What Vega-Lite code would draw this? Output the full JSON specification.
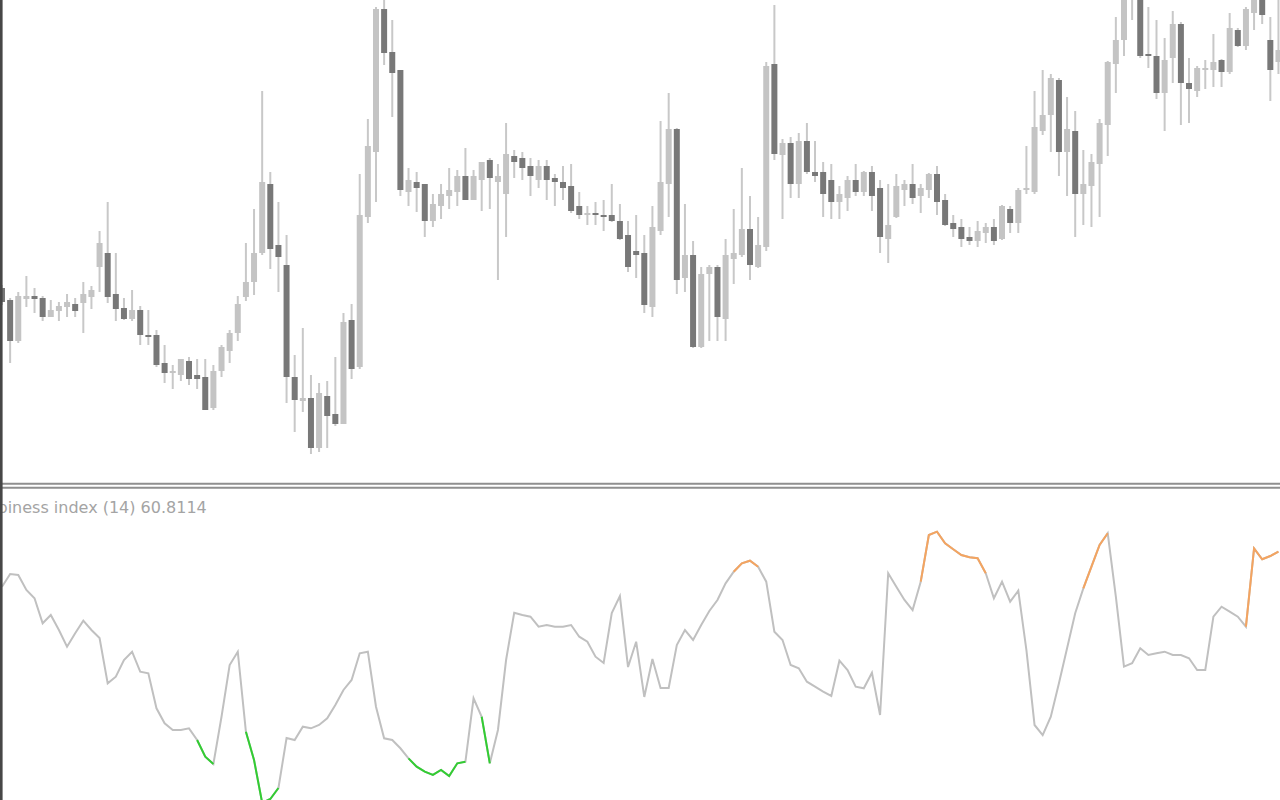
{
  "$schema": "https://vega.github.io/schema/vega-lite/v6.json",
  "width": 1280,
  "height": 800,
  "padding": 0,
  "autosize": {"type": "none"},
  "background": "#ffffff",
  "config": {"view": {"stroke": null}, "scale": {"continuousPadding": 0}},
  "datasets": {
    "candles": [
      {"i":0,"o":192,"h":195,"l":175,"c":178},{"i":1,"o":180,"h":182,"l":117,"c":139},{"i":2,"o":139,"h":188,"l":137,"c":184},{"i":3,"o":181,"h":204,"l":173,"c":184},{"i":4,"o":184,"h":192,"l":167,"c":181},
      {"i":5,"o":182,"h":184,"l":159,"c":163},{"i":6,"o":163,"h":180,"l":163,"c":170},{"i":7,"o":169,"h":178,"l":159,"c":174},{"i":8,"o":173,"h":186,"l":163,"c":178},{"i":9,"o":176,"h":182,"l":163,"c":169},
      {"i":10,"o":177,"h":198,"l":147,"c":186},{"i":11,"o":183,"h":194,"l":171,"c":190},{"i":12,"o":213,"h":249,"l":188,"c":237},{"i":13,"o":227,"h":278,"l":177,"c":183},{"i":14,"o":186,"h":227,"l":159,"c":171},
      {"i":15,"o":172,"h":182,"l":160,"c":161},{"i":16,"o":161,"h":190,"l":159,"c":170},{"i":17,"o":170,"h":174,"l":135,"c":145},{"i":18,"o":145,"h":170,"l":135,"c":143},{"i":19,"o":145,"h":150,"l":113,"c":115},
      {"i":20,"o":117,"h":135,"l":97,"c":107},{"i":21,"o":107,"h":115,"l":91,"c":109},{"i":22,"o":105,"h":121,"l":99,"c":121},{"i":23,"o":119,"h":123,"l":95,"c":101},{"i":24,"o":105,"h":121,"l":91,"c":101},
      {"i":25,"o":103,"h":121,"l":70,"c":70},{"i":26,"o":72,"h":115,"l":70,"c":109},{"i":27,"o":109,"h":135,"l":103,"c":133},{"i":28,"o":129,"h":150,"l":117,"c":147},{"i":29,"o":147,"h":184,"l":139,"c":176},
      {"i":30,"o":183,"h":237,"l":179,"c":198},{"i":31,"o":198,"h":271,"l":185,"c":227},{"i":32,"o":227,"h":389,"l":225,"c":298},{"i":33,"o":296,"h":308,"l":211,"c":231},{"i":34,"o":235,"h":278,"l":188,"c":223},
      {"i":35,"o":215,"h":245,"l":77,"c":103},{"i":36,"o":103,"h":125,"l":48,"c":80},{"i":37,"o":79,"h":152,"l":68,"c":82},{"i":38,"o":82,"h":105,"l":26,"c":32},{"i":39,"o":32,"h":97,"l":28,"c":87},
      {"i":40,"o":84,"h":99,"l":32,"c":64},{"i":41,"o":66,"h":123,"l":54,"c":56},{"i":42,"o":56,"h":167,"l":56,"c":158},{"i":43,"o":160,"h":176,"l":101,"c":111},{"i":44,"o":113,"h":306,"l":111,"c":265},
      {"i":45,"o":263,"h":361,"l":257,"c":334},{"i":46,"o":328,"h":473,"l":278,"c":471},{"i":47,"o":471,"h":484,"l":415,"c":427},{"i":48,"o":428,"h":460,"l":363,"c":407},{"i":49,"o":410,"h":410,"l":284,"c":290},
      {"i":50,"o":288,"h":312,"l":274,"c":300},{"i":51,"o":298,"h":308,"l":268,"c":292},{"i":52,"o":296,"h":296,"l":243,"c":259},{"i":53,"o":259,"h":286,"l":253,"c":276},{"i":54,"o":274,"h":296,"l":261,"c":286},
      {"i":55,"o":284,"h":312,"l":271,"c":290},{"i":56,"o":288,"h":310,"l":274,"c":304},{"i":57,"o":304,"h":332,"l":280,"c":280},{"i":58,"o":280,"h":310,"l":280,"c":304},{"i":59,"o":300,"h":318,"l":269,"c":318},
      {"i":60,"o":320,"h":322,"l":271,"c":302},{"i":61,"o":298,"h":316,"l":200,"c":304},{"i":62,"o":286,"h":357,"l":243,"c":326},{"i":63,"o":324,"h":330,"l":302,"c":318},{"i":64,"o":322,"h":328,"l":300,"c":312},
      {"i":65,"o":314,"h":322,"l":284,"c":304},{"i":66,"o":300,"h":320,"l":292,"c":314},{"i":67,"o":314,"h":320,"l":280,"c":300},{"i":68,"o":302,"h":306,"l":274,"c":298},{"i":69,"o":298,"h":314,"l":280,"c":292},
      {"i":70,"o":294,"h":316,"l":267,"c":269},{"i":71,"o":274,"h":288,"l":261,"c":265},{"i":72,"o":265,"h":274,"l":255,"c":267},{"i":73,"o":267,"h":278,"l":255,"c":265},{"i":74,"o":265,"h":280,"l":249,"c":263},
      {"i":75,"o":265,"h":296,"l":258,"c":259},{"i":76,"o":259,"h":276,"l":240,"c":241},{"i":77,"o":245,"h":259,"l":208,"c":213},{"i":78,"o":229,"h":265,"l":202,"c":225},{"i":79,"o":227,"h":245,"l":167,"c":175},
      {"i":80,"o":173,"h":274,"l":163,"c":253},{"i":81,"o":249,"h":359,"l":245,"c":298},{"i":82,"o":296,"h":387,"l":263,"c":351},{"i":83,"o":351,"h":352,"l":186,"c":200},{"i":84,"o":202,"h":276,"l":188,"c":225},
      {"i":85,"o":225,"h":239,"l":132,"c":133},{"i":86,"o":133,"h":213,"l":132,"c":206},{"i":87,"o":206,"h":215,"l":139,"c":213},{"i":88,"o":213,"h":215,"l":139,"c":163},{"i":89,"o":161,"h":241,"l":139,"c":225},
      {"i":90,"o":221,"h":271,"l":196,"c":227},{"i":91,"o":225,"h":312,"l":223,"c":251},{"i":92,"o":251,"h":284,"l":200,"c":215},{"i":93,"o":213,"h":263,"l":212,"c":235},{"i":94,"o":233,"h":418,"l":229,"c":414},
      {"i":95,"o":416,"h":475,"l":320,"c":326},{"i":96,"o":325,"h":341,"l":261,"c":337},{"i":97,"o":337,"h":343,"l":282,"c":296},{"i":98,"o":296,"h":347,"l":282,"c":339},{"i":99,"o":339,"h":357,"l":306,"c":308},
      {"i":100,"o":308,"h":339,"l":298,"c":304},{"i":101,"o":308,"h":318,"l":263,"c":286},{"i":102,"o":300,"h":316,"l":261,"c":278},{"i":103,"o":278,"h":294,"l":261,"c":286},{"i":104,"o":282,"h":304,"l":269,"c":300},
      {"i":105,"o":300,"h":316,"l":284,"c":288},{"i":106,"o":288,"h":309,"l":284,"c":308},{"i":107,"o":308,"h":314,"l":269,"c":284},{"i":108,"o":292,"h":300,"l":227,"c":243},{"i":109,"o":241,"h":296,"l":217,"c":255},
      {"i":110,"o":263,"h":306,"l":262,"c":294},{"i":111,"o":290,"h":300,"l":274,"c":296},{"i":112,"o":296,"h":316,"l":276,"c":282},{"i":113,"o":284,"h":296,"l":267,"c":292},{"i":114,"o":290,"h":307,"l":282,"c":306},
      {"i":115,"o":306,"h":314,"l":265,"c":278},{"i":116,"o":280,"h":286,"l":254,"c":255},{"i":117,"o":257,"h":265,"l":243,"c":251},{"i":118,"o":253,"h":261,"l":233,"c":241},{"i":119,"o":243,"h":253,"l":235,"c":239},
      {"i":120,"o":239,"h":259,"l":233,"c":249},{"i":121,"o":247,"h":257,"l":237,"c":253},{"i":122,"o":253,"h":261,"l":235,"c":239},{"i":123,"o":241,"h":275,"l":240,"c":274},{"i":124,"o":271,"h":274,"l":247,"c":257},
      {"i":125,"o":257,"h":292,"l":247,"c":290},{"i":126,"o":290,"h":334,"l":286,"c":292},{"i":127,"o":288,"h":389,"l":286,"c":353},{"i":128,"o":349,"h":410,"l":345,"c":365},{"i":129,"o":365,"h":406,"l":328,"c":402},
      {"i":130,"o":400,"h":402,"l":304,"c":328},{"i":131,"o":328,"h":383,"l":284,"c":351},{"i":132,"o":349,"h":369,"l":243,"c":286},{"i":133,"o":286,"h":330,"l":255,"c":296},{"i":134,"o":294,"h":326,"l":253,"c":318},
      {"i":135,"o":316,"h":361,"l":263,"c":357},{"i":136,"o":355,"h":419,"l":324,"c":418},{"i":137,"o":416,"h":463,"l":387,"c":440},{"i":138,"o":440,"h":495,"l":424,"c":488},{"i":139,"o":490,"h":520,"l":460,"c":510},
      {"i":140,"o":488,"h":495,"l":422,"c":424},{"i":141,"o":426,"h":473,"l":412,"c":424},{"i":142,"o":424,"h":460,"l":381,"c":387},{"i":143,"o":387,"h":442,"l":349,"c":420},{"i":144,"o":422,"h":469,"l":397,"c":456},
      {"i":145,"o":456,"h":458,"l":355,"c":397},{"i":146,"o":397,"h":422,"l":357,"c":391},{"i":147,"o":389,"h":414,"l":383,"c":412},{"i":148,"o":410,"h":420,"l":391,"c":412},{"i":149,"o":410,"h":446,"l":393,"c":418},
      {"i":150,"o":420,"h":421,"l":393,"c":408},{"i":151,"o":408,"h":467,"l":406,"c":452},{"i":152,"o":450,"h":452,"l":433,"c":434},{"i":153,"o":434,"h":473,"l":430,"c":471},{"i":154,"o":467,"h":490,"l":450,"c":485},
      {"i":155,"o":483,"h":488,"l":456,"c":465},{"i":156,"o":440,"h":463,"l":379,"c":410},{"i":157,"o":418,"h":485,"l":406,"c":430}
    ],
    "chop": [
      {"i":0,"v":55.76},{"i":1,"v":57.60},{"i":2,"v":57.45},{"i":3,"v":55.29},{"i":4,"v":54.09},{"i":5,"v":50.49},{"i":6,"v":51.68},{"i":7,"v":49.52},{"i":8,"v":47.11},{"i":9,"v":49.04},
      {"i":10,"v":50.86},{"i":11,"v":49.52},{"i":12,"v":48.37},{"i":13,"v":41.83},{"i":14,"v":42.78},{"i":15,"v":45.19},{"i":16,"v":46.39},{"i":17,"v":43.50},{"i":18,"v":43.27},{"i":19,"v":38.23},
      {"i":20,"v":36.06},{"i":21,"v":35.10},{"i":22,"v":35.10},{"i":23,"v":35.34},{"i":24,"v":33.65,"run":"g1"},{"i":25,"v":31.25,"run":"g1"},{"i":26,"v":30.19,"run":"g1"},{"i":27,"v":37.01},{"i":28,"v":44.47},{"i":29,"v":46.39},
      {"i":30,"v":34.85,"run":"g2"},{"i":31,"v":30.77,"run":"g2"},{"i":32,"v":24.60,"run":"g2"},{"i":33,"v":25.14,"run":"g2"},{"i":34,"v":26.73,"run":"g2"},{"i":35,"v":33.94},{"i":36,"v":33.65},{"i":37,"v":35.57},{"i":38,"v":35.34},{"i":39,"v":35.82},
      {"i":40,"v":36.78},{"i":41,"v":38.70},{"i":42,"v":40.87},{"i":43,"v":42.31},{"i":44,"v":46.16},{"i":45,"v":46.39},{"i":46,"v":38.46},{"i":47,"v":33.90},{"i":48,"v":33.65},{"i":49,"v":32.46},
      {"i":50,"v":31.01,"run":"g3"},{"i":51,"v":29.80,"run":"g3"},{"i":52,"v":29.08,"run":"g3"},{"i":53,"v":28.61,"run":"g3"},{"i":54,"v":29.33,"run":"g3"},{"i":55,"v":28.46,"run":"g3"},{"i":56,"v":30.29,"run":"g3"},{"i":57,"v":30.52,"run":"g3"},{"i":58,"v":39.67},{"i":59,"v":37.01,"run":"g4"},
      {"i":60,"v":30.29,"run":"g4"},{"i":61,"v":35.10},{"i":62,"v":45.19},{"i":63,"v":52.01},{"i":64,"v":51.68},{"i":65,"v":51.44},{"i":66,"v":50.00},{"i":67,"v":50.24},{"i":68,"v":50.00},{"i":69,"v":50.00},
      {"i":70,"v":50.24},{"i":71,"v":48.55},{"i":72,"v":47.83},{"i":73,"v":45.67},{"i":74,"v":44.76},{"i":75,"v":51.97},{"i":76,"v":54.42},{"i":77,"v":44.18},{"i":78,"v":47.83},{"i":79,"v":39.86},
      {"i":80,"v":45.34},{"i":81,"v":41.15},{"i":82,"v":41.15},{"i":83,"v":47.36},{"i":84,"v":49.52},{"i":85,"v":48.08},{"i":86,"v":50.24},{"i":87,"v":52.26},{"i":88,"v":53.85},{"i":89,"v":56.25},
      {"i":90,"v":57.93,"run":"o1"},{"i":91,"v":59.14,"run":"o1"},{"i":92,"v":59.51,"run":"o1"},{"i":93,"v":58.65,"run":"o1"},{"i":94,"v":56.49},{"i":95,"v":49.27},{"i":96,"v":48.08},{"i":97,"v":44.47},{"i":98,"v":44.00},{"i":99,"v":42.06},
      {"i":100,"v":41.34},{"i":101,"v":40.62},{"i":102,"v":40.00},{"i":103,"v":45.09},{"i":104,"v":43.75},{"i":105,"v":41.34},{"i":106,"v":41.11},{"i":107,"v":43.36},{"i":108,"v":37.26},{"i":109,"v":57.70},
      {"i":110,"v":55.76},{"i":111,"v":53.85},{"i":112,"v":52.40},{"i":113,"v":56.49,"run":"o2"},{"i":114,"v":63.22,"run":"o2"},{"i":115,"v":63.70,"run":"o2"},{"i":116,"v":62.02,"run":"o2"},{"i":117,"v":61.16,"run":"o2"},{"i":118,"v":60.34,"run":"o2"},{"i":119,"v":60.00,"run":"o2"},
      {"i":120,"v":59.86,"run":"o2"},{"i":121,"v":57.70,"run":"o2"},{"i":122,"v":54.09},{"i":123,"v":56.49},{"i":124,"v":53.60},{"i":125,"v":55.19},{"i":126,"v":46.63},{"i":127,"v":35.82},{"i":128,"v":34.37},{"i":129,"v":37.01},
      {"i":130,"v":41.83},{"i":131,"v":46.88},{"i":132,"v":51.93},{"i":133,"v":55.53,"run":"o3"},{"i":134,"v":58.65,"run":"o3"},{"i":135,"v":61.78,"run":"o3"},{"i":136,"v":63.47,"run":"o3"},{"i":137,"v":54.32},{"i":138,"v":44.23},{"i":139,"v":44.72},
      {"i":140,"v":46.88},{"i":141,"v":45.91},{"i":142,"v":46.16},{"i":143,"v":46.39},{"i":144,"v":45.91},{"i":145,"v":45.91},{"i":146,"v":45.44},{"i":147,"v":43.75},{"i":148,"v":43.75},{"i":149,"v":51.44},
      {"i":150,"v":52.88},{"i":151,"v":52.16},{"i":152,"v":51.44},{"i":153,"v":50.00,"run":"o4"},{"i":154,"v":61.30,"run":"o4"},{"i":155,"v":59.72,"run":"o4"},{"i":156,"v":60.19,"run":"o4"},{"i":157,"v":60.81,"run":"o4"}
    ]
  },
  "resolve": {"scale": {"y": "independent"}},
  "layer": [
    {
      "layer": [
        {
          "data": {"name": "candles"},
          "mark": {"type": "rule", "strokeWidth": 2, "color": "#c8c8c8", "clip": true},
          "encoding": {
            "x": {"field": "i", "type": "quantitative", "scale": {"domain": [-0.246, 157.19], "nice": false, "zero": false, "padding": 0}, "axis": null},
            "y": {"field": "h", "type": "quantitative", "scale": {"domain": [-320, 480], "nice": false, "zero": false, "padding": 0}, "axis": null},
            "y2": {"field": "l"}
          }
        },
        {
          "data": {"name": "candles"},
          "mark": {"type": "bar", "width": 6, "clip": true},
          "encoding": {
            "x": {"field": "i", "type": "quantitative", "scale": {"domain": [-0.246, 157.19], "nice": false, "zero": false, "padding": 0}, "axis": null},
            "y": {"field": "o", "type": "quantitative", "scale": {"domain": [-320, 480], "nice": false, "zero": false, "padding": 0}, "axis": null},
            "y2": {"field": "c"},
            "color": {"condition": {"test": "datum.c < datum.o", "value": "#787878"}, "value": "#c4c4c4"}
          }
        },
        {
          "data": {"values": [{"k": "top"}]},
          "mark": {"type": "rule", "strokeWidth": 2, "color": "#8f8f8f"},
          "encoding": {
            "y": {"datum": -3.7, "type": "quantitative", "scale": {"domain": [-320, 480], "nice": false, "zero": false, "padding": 0}, "axis": null}
          }
        },
        {
          "data": {"values": [{"k": "bottom"}]},
          "mark": {"type": "rule", "strokeWidth": 2, "color": "#8f8f8f"},
          "encoding": {
            "y": {"datum": -7.7, "type": "quantitative", "scale": {"domain": [-320, 480], "nice": false, "zero": false, "padding": 0}, "axis": null}
          }
        }
      ]
    },
    {
      "layer": [
        {
          "data": {"name": "chop"},
          "mark": {"type": "line", "strokeWidth": 2, "color": "#c0c0c0", "clip": true},
          "encoding": {
            "x": {"field": "i", "type": "quantitative", "scale": {"domain": [-0.246, 157.19], "nice": false, "zero": false, "padding": 0}, "axis": null},
            "y": {"field": "v", "type": "quantitative", "scale": {"domain": [25, 140.385], "nice": false, "zero": false, "padding": 0}, "axis": null}
          }
        },
        {
          "data": {"name": "chop"},
          "transform": [{"filter": {"field": "run", "oneOf": ["g1", "g2", "g3", "g4"]}}],
          "mark": {"type": "line", "strokeWidth": 2, "color": "#32cd32", "clip": true},
          "encoding": {
            "x": {"field": "i", "type": "quantitative", "scale": {"domain": [-0.246, 157.19], "nice": false, "zero": false, "padding": 0}, "axis": null},
            "y": {"field": "v", "type": "quantitative", "scale": {"domain": [25, 140.385], "nice": false, "zero": false, "padding": 0}, "axis": null},
            "detail": {"field": "run"}
          }
        },
        {
          "data": {"name": "chop"},
          "transform": [{"filter": {"field": "run", "oneOf": ["o1", "o2", "o3", "o4"]}}],
          "mark": {"type": "line", "strokeWidth": 2, "color": "#f4a460", "clip": true},
          "encoding": {
            "x": {"field": "i", "type": "quantitative", "scale": {"domain": [-0.246, 157.19], "nice": false, "zero": false, "padding": 0}, "axis": null},
            "y": {"field": "v", "type": "quantitative", "scale": {"domain": [25, 140.385], "nice": false, "zero": false, "padding": 0}, "axis": null},
            "detail": {"field": "run"}
          }
        },
        {
          "data": {"values": [{"label": "Choppiness index (14) 60.8114"}]},
          "mark": {"type": "text", "align": "left", "baseline": "alphabetic", "font": "DejaVu Sans", "fontSize": 16, "color": "#a4a4a4", "clip": true},
          "encoding": {
            "x": {"datum": -5.63, "type": "quantitative", "scale": {"domain": [-0.246, 157.19], "nice": false, "zero": false, "padding": 0}, "axis": null},
            "y": {"datum": 66.39, "type": "quantitative", "scale": {"domain": [25, 140.385], "nice": false, "zero": false, "padding": 0}, "axis": null},
            "text": {"field": "label"}
          }
        },
        {
          "data": {"values": [{"k": "edge"}]},
          "mark": {"type": "rule", "strokeWidth": 2.6, "color": "#474747"},
          "encoding": {
            "x": {"datum": -0.086, "type": "quantitative", "scale": {"domain": [-0.246, 157.19], "nice": false, "zero": false, "padding": 0}, "axis": null}
          }
        }
      ]
    }
  ]
}
